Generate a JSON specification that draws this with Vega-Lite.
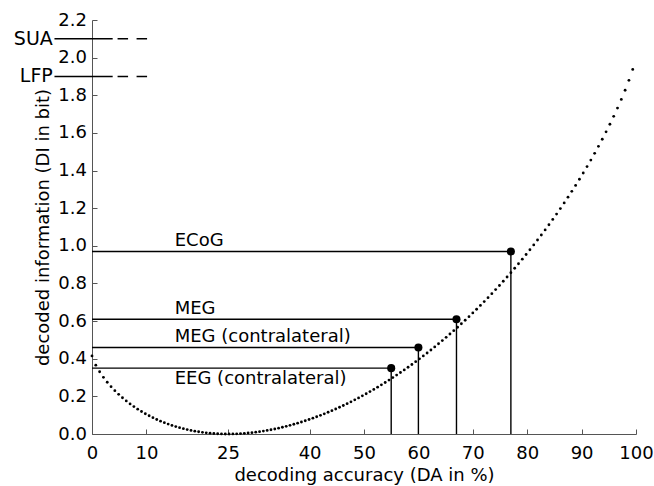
{
  "$schema": "https://vega.github.io/schema/vega-lite/v6.json",
  "width": 544,
  "height": 414,
  "autosize": {"type": "none"},
  "padding": {"left": 92, "top": 20, "right": 18, "bottom": 52},
  "background": "white",
  "config": {
    "view": {"stroke": null},
    "font": "DejaVu Sans",
    "axis": {
      "grid": false,
      "tickSize": -5,
      "tickColor": "#555555",
      "domainColor": "#555555",
      "labelColor": "black",
      "titleColor": "black",
      "labelFontSize": 18,
      "titleFontSize": 18,
      "titleFontWeight": "normal",
      "labelFlush": false,
      "labelOverlap": false,
      "labelSeparation": 0,
      "labelBound": false
    },
    "axisY": {"labelOverlap": false, "labelBound": false},
    "axisLeft": {"labelOverlap": false},
    "axisQuantitative": {"labelOverlap": false}
  },
  "datasets": {
    "curve": [
      {"DA": 0, "DI": 0.41504}, {"DA": 0.7, "DI": 0.36596}, {"DA": 1.4, "DI": 0.33096}, {"DA": 2.1, "DI": 0.3013},
      {"DA": 2.8, "DI": 0.27516}, {"DA": 3.5, "DI": 0.25164}, {"DA": 4.2, "DI": 0.23022}, {"DA": 4.9, "DI": 0.21057},
      {"DA": 5.6, "DI": 0.19246}, {"DA": 6.3, "DI": 0.17565}, {"DA": 7.0, "DI": 0.16006}, {"DA": 7.7, "DI": 0.14556},
      {"DA": 8.4, "DI": 0.13209}, {"DA": 9.1, "DI": 0.11945}, {"DA": 9.8, "DI": 0.10774}, {"DA": 10.5, "DI": 0.09682},
      {"DA": 11.2, "DI": 0.08664}, {"DA": 11.9, "DI": 0.07717}, {"DA": 12.6, "DI": 0.06838}, {"DA": 13.3, "DI": 0.06024},
      {"DA": 14.0, "DI": 0.05268}, {"DA": 14.7, "DI": 0.04574}, {"DA": 15.4, "DI": 0.03936}, {"DA": 16.1, "DI": 0.03352},
      {"DA": 16.8, "DI": 0.0282}, {"DA": 17.5, "DI": 0.02339}, {"DA": 18.2, "DI": 0.01907}, {"DA": 18.9, "DI": 0.01521},
      {"DA": 19.6, "DI": 0.01183}, {"DA": 20.3, "DI": 0.0089}, {"DA": 21.0, "DI": 0.0064}, {"DA": 21.7, "DI": 0.00432},
      {"DA": 22.4, "DI": 0.00266}, {"DA": 23.1, "DI": 0.00141}, {"DA": 23.8, "DI": 0.00055}, {"DA": 24.5, "DI": 0.0001},
      {"DA": 25.2, "DI": 0.00002}, {"DA": 25.9, "DI": 0.00031}, {"DA": 26.6, "DI": 0.00098}, {"DA": 27.3, "DI": 0.002},
      {"DA": 28.0, "DI": 0.00338}, {"DA": 28.7, "DI": 0.00512}, {"DA": 29.4, "DI": 0.00719}, {"DA": 30.1, "DI": 0.00961},
      {"DA": 30.8, "DI": 0.01236}, {"DA": 31.5, "DI": 0.01544}, {"DA": 32.2, "DI": 0.01886}, {"DA": 32.9, "DI": 0.02259},
      {"DA": 33.6, "DI": 0.02665}, {"DA": 34.3, "DI": 0.03102}, {"DA": 35.0, "DI": 0.03571}, {"DA": 35.7, "DI": 0.04071},
      {"DA": 36.4, "DI": 0.04601}, {"DA": 37.1, "DI": 0.05163}, {"DA": 37.8, "DI": 0.05754}, {"DA": 38.5, "DI": 0.06376},
      {"DA": 39.2, "DI": 0.07026}, {"DA": 39.9, "DI": 0.07707}, {"DA": 40.6, "DI": 0.08418}, {"DA": 41.3, "DI": 0.09158},
      {"DA": 42.0, "DI": 0.09927}, {"DA": 42.7, "DI": 0.10725}, {"DA": 43.4, "DI": 0.11552}, {"DA": 44.1, "DI": 0.12408},
      {"DA": 44.8, "DI": 0.13292}, {"DA": 45.5, "DI": 0.14205}, {"DA": 46.2, "DI": 0.15147}, {"DA": 46.9, "DI": 0.16116},
      {"DA": 47.6, "DI": 0.17114}, {"DA": 48.3, "DI": 0.18141}, {"DA": 49.0, "DI": 0.19196}, {"DA": 49.7, "DI": 0.20279},
      {"DA": 50.4, "DI": 0.21391}, {"DA": 51.1, "DI": 0.2253}, {"DA": 51.8, "DI": 0.23699}, {"DA": 52.5, "DI": 0.24895},
      {"DA": 53.2, "DI": 0.2612}, {"DA": 53.9, "DI": 0.27372}, {"DA": 54.6, "DI": 0.28654}, {"DA": 55.3, "DI": 0.29964},
      {"DA": 56.0, "DI": 0.31303}, {"DA": 56.7, "DI": 0.3267}, {"DA": 57.4, "DI": 0.34066}, {"DA": 58.1, "DI": 0.35491},
      {"DA": 58.8, "DI": 0.36946}, {"DA": 59.5, "DI": 0.3843}, {"DA": 60.2, "DI": 0.39942}, {"DA": 60.9, "DI": 0.41484},
      {"DA": 61.6, "DI": 0.43056}, {"DA": 62.3, "DI": 0.44658}, {"DA": 63.0, "DI": 0.4629}, {"DA": 63.7, "DI": 0.47952},
      {"DA": 64.4, "DI": 0.49645}, {"DA": 65.1, "DI": 0.51368}, {"DA": 65.8, "DI": 0.53123}, {"DA": 66.5, "DI": 0.54909},
      {"DA": 67.2, "DI": 0.56726}, {"DA": 67.9, "DI": 0.58576}, {"DA": 68.6, "DI": 0.60458}, {"DA": 69.3, "DI": 0.62373},
      {"DA": 70.0, "DI": 0.64322}, {"DA": 70.7, "DI": 0.66304}, {"DA": 71.4, "DI": 0.68321}, {"DA": 72.1, "DI": 0.70371},
      {"DA": 72.8, "DI": 0.72457}, {"DA": 73.5, "DI": 0.74579}, {"DA": 74.2, "DI": 0.76737}, {"DA": 74.9, "DI": 0.78931},
      {"DA": 75.6, "DI": 0.81164}, {"DA": 76.3, "DI": 0.83435}, {"DA": 77.0, "DI": 0.85745}, {"DA": 77.7, "DI": 0.88095},
      {"DA": 78.4, "DI": 0.90485}, {"DA": 79.1, "DI": 0.92918}, {"DA": 79.8, "DI": 0.95393}, {"DA": 80.5, "DI": 0.97912},
      {"DA": 81.2, "DI": 1.00476}, {"DA": 81.9, "DI": 1.03087}, {"DA": 82.6, "DI": 1.05745}, {"DA": 83.3, "DI": 1.08452},
      {"DA": 84.0, "DI": 1.11211}, {"DA": 84.7, "DI": 1.14021}, {"DA": 85.4, "DI": 1.16886}, {"DA": 86.1, "DI": 1.19807},
      {"DA": 86.8, "DI": 1.2279}, {"DA": 87.5, "DI": 1.25832}, {"DA": 88.2, "DI": 1.28939}, {"DA": 88.9, "DI": 1.32117},
      {"DA": 89.6, "DI": 1.35361}, {"DA": 90.3, "DI": 1.38684}, {"DA": 91.0, "DI": 1.42085}, {"DA": 91.7, "DI": 1.45581},
      {"DA": 92.4, "DI": 1.49162}, {"DA": 93.1, "DI": 1.52845}, {"DA": 93.8, "DI": 1.5664}, {"DA": 94.5, "DI": 1.60557},
      {"DA": 95.2, "DI": 1.64608}, {"DA": 95.9, "DI": 1.68816}, {"DA": 96.6, "DI": 1.73204}, {"DA": 97.3, "DI": 1.77809},
      {"DA": 98.0, "DI": 1.82686}, {"DA": 98.7, "DI": 1.87931}, {"DA": 99.4, "DI": 1.93758}
    ],
    "meas": [
      {"name": "ECoG", "DA": 77, "DI": 0.97},
      {"name": "MEG", "DA": 67, "DI": 0.61},
      {"name": "MEG (contralateral)", "DA": 60, "DI": 0.46},
      {"name": "EEG (contralateral)", "DA": 55, "DI": 0.35}
    ],
    "refs": [
      {"name": "SUA", "DI": 2.1},
      {"name": "LFP", "DI": 1.9}
    ]
  },
  "encoding": {
    "y": {
      "type": "quantitative",
      "scale": {"domain": [0, 2.2], "nice": false},
      "axis": {
        "values": [0, 0.2, 0.4, 0.6, 0.8, 1.0, 1.2, 1.4, 1.6, 1.8, 2.0, 2.2],
        "format": ".1f",
        "labelPadding": 10.5,
        "labelOverlap": false,
        "title": "decoded information (DI in bit)",
        "titleBaseline": "alphabetic",
        "titleAlign": "center",
        "titleAngle": -90,
        "titleX": -44,
        "titleY": 207
      }
    }
  },
  "layer": [
    {
      "data": {"name": "curve"},
      "mark": {"type": "circle", "size": 8, "color": "black", "opacity": 1},
      "encoding": {
        "x": {
          "field": "DA", "type": "quantitative",
          "scale": {"domain": [0, 100], "nice": false},
          "axis": {
            "values": [0, 10, 25, 40, 50, 60, 70, 80, 90, 100],
            "labelPadding": 15,
            "labelOverlap": false,
            "title": "decoding accuracy (DA in %)",
            "titleBaseline": "alphabetic",
            "titleY": 46
          }
        },
        "y": {"field": "DI"}
      }
    },
    {
      "data": {"name": "meas"},
      "mark": {"type": "rule", "color": "black", "strokeWidth": 1.4},
      "encoding": {
        "x": {"field": "DA", "type": "quantitative"},
        "x2": {"datum": 0},
        "y": {"field": "DI"}
      }
    },
    {
      "data": {"name": "meas"},
      "mark": {"type": "rule", "color": "black", "strokeWidth": 1.4},
      "encoding": {
        "x": {"field": "DA", "type": "quantitative"},
        "y": {"field": "DI"},
        "y2": {"datum": 0}
      }
    },
    {
      "data": {"name": "meas"},
      "mark": {"type": "circle", "size": 65, "color": "black", "opacity": 1},
      "encoding": {
        "x": {"field": "DA", "type": "quantitative"},
        "y": {"field": "DI"}
      }
    },
    {
      "data": {"name": "meas"},
      "transform": [{"filter": "datum.name !== 'EEG (contralateral)'"}],
      "mark": {"type": "text", "align": "left", "baseline": "alphabetic", "dy": -5, "fontSize": 18, "color": "black"},
      "encoding": {
        "x": {"datum": 15.2, "type": "quantitative"},
        "y": {"field": "DI"},
        "text": {"field": "name"}
      }
    },
    {
      "data": {"name": "meas"},
      "transform": [{"filter": "datum.name === 'EEG (contralateral)'"}],
      "mark": {"type": "text", "align": "left", "baseline": "alphabetic", "dy": 16, "fontSize": 18, "color": "black"},
      "encoding": {
        "x": {"datum": 15.2, "type": "quantitative"},
        "y": {"field": "DI"},
        "text": {"field": "name"}
      }
    },
    {
      "data": {"name": "refs"},
      "mark": {"type": "rule", "color": "black", "strokeWidth": 1.4},
      "encoding": {
        "x": {"datum": -6.9, "type": "quantitative"},
        "x2": {"datum": 3.8},
        "y": {"field": "DI"}
      }
    },
    {
      "data": {"name": "refs"},
      "mark": {"type": "rule", "color": "black", "strokeWidth": 1.4, "strokeDash": [10.5, 8.5]},
      "encoding": {
        "x": {"datum": 4.7, "type": "quantitative"},
        "x2": {"datum": 10.2},
        "y": {"field": "DI"}
      }
    },
    {
      "data": {"name": "refs"},
      "mark": {"type": "text", "align": "right", "baseline": "middle", "fontSize": 19, "color": "black"},
      "encoding": {
        "x": {"datum": -7.2, "type": "quantitative"},
        "y": {"field": "DI"},
        "text": {"field": "name"}
      }
    }
  ]
}
